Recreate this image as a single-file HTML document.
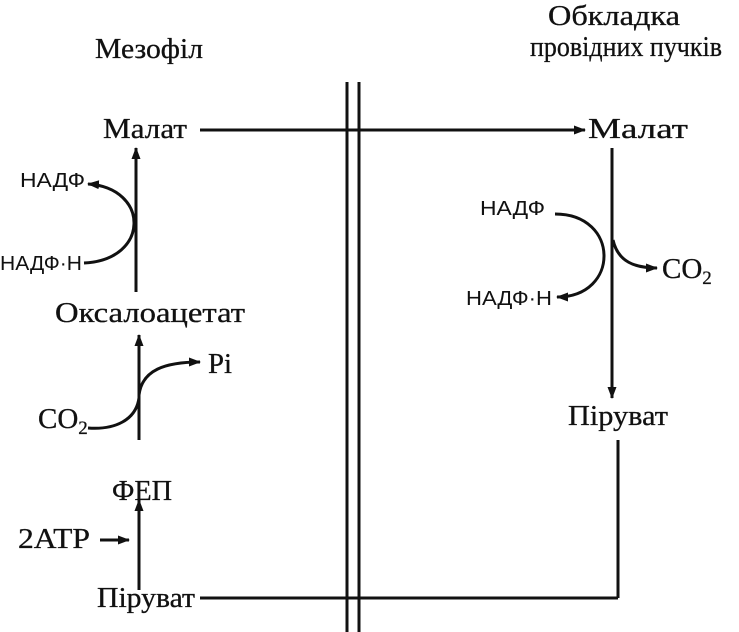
<!DOCTYPE html>
<html><head><meta charset="utf-8"><style>
html,body{margin:0;padding:0;background:#fff;}
svg{display:block}
.s{font-family:"Liberation Serif",serif;font-size:29px;fill:#111;stroke:#111;stroke-width:0.3}
.a{font-family:"Liberation Sans",sans-serif;font-size:20px;fill:#111}
</style></head><body>
<svg width="739" height="632" viewBox="0 0 739 632" xmlns="http://www.w3.org/2000/svg">
<defs><marker id="ah" markerWidth="12" markerHeight="9" refX="11" refY="4.5" orient="auto" markerUnits="userSpaceOnUse"><path d="M0,0 L12,4.5 L0,9 Z" fill="#111"/></marker></defs>
<g stroke="#111" stroke-width="3" fill="none">
<line x1="347" y1="82" x2="347" y2="632"/>
<line x1="359" y1="82" x2="359" y2="632"/>
<line x1="200" y1="130" x2="585" y2="130" marker-end="url(#ah)"/>
<line x1="136" y1="292" x2="136" y2="148" marker-end="url(#ah)"/>
<path d="M84,263 C150,260 150,188 88,184" marker-end="url(#ah)"/>
<line x1="139" y1="440" x2="139" y2="335" marker-end="url(#ah)"/>
<path d="M139,395 C142,370 165,362 200,362" marker-end="url(#ah)"/>
<path d="M88,428 C115,430 136,420 139,398"/>
<line x1="139" y1="590" x2="139" y2="500" marker-end="url(#ah)"/>
<line x1="100" y1="540" x2="129" y2="540" marker-end="url(#ah)"/>
<line x1="200" y1="598" x2="618" y2="598"/>
<line x1="618" y1="598" x2="618" y2="440"/>
<line x1="612" y1="148" x2="612" y2="398" marker-end="url(#ah)"/>
<path d="M555,214 C620,214 620,297 557,297" marker-end="url(#ah)"/>
<path d="M613,240 C618,262 635,268 657,268" marker-end="url(#ah)"/>
</g>
<text class="s" x="95" y="58" textLength="108" lengthAdjust="spacingAndGlyphs">Мезофіл</text>
<text class="s" x="548" y="25" textLength="132" lengthAdjust="spacingAndGlyphs">Обкладка</text>
<text class="s" x="530" y="56" textLength="192" lengthAdjust="spacingAndGlyphs">провідних пучків</text>
<text class="s" x="103" y="138" textLength="84" lengthAdjust="spacingAndGlyphs">Малат</text>
<text class="s" x="588" y="138" textLength="100" lengthAdjust="spacingAndGlyphs">Малат</text>
<text class="a" x="20" y="187" textLength="65" lengthAdjust="spacingAndGlyphs">НАДФ</text>
<text class="a" x="0" y="270" textLength="82" lengthAdjust="spacingAndGlyphs">НАДФ·Н</text>
<text class="s" x="55" y="322" textLength="190" lengthAdjust="spacingAndGlyphs">Оксалоацетат</text>
<text class="s" x="208" y="373" textLength="24" lengthAdjust="spacingAndGlyphs">Pi</text>
<text class="s" x="38" y="428">CO<tspan font-size="19" dy="6">2</tspan></text>
<text class="s" x="112" y="500" textLength="60" lengthAdjust="spacingAndGlyphs">ФЕП</text>
<text class="s" x="18" y="548" textLength="72" lengthAdjust="spacingAndGlyphs">2ATP</text>
<text class="s" x="97" y="607" textLength="98" lengthAdjust="spacingAndGlyphs">Піруват</text>
<text class="a" x="480" y="215" textLength="65" lengthAdjust="spacingAndGlyphs">НАДФ</text>
<text class="a" x="466" y="305" textLength="86" lengthAdjust="spacingAndGlyphs">НАДФ·Н</text>
<text class="s" x="662" y="278">CO<tspan font-size="19" dy="6">2</tspan></text>
<text class="s" x="568" y="425" textLength="100" lengthAdjust="spacingAndGlyphs">Піруват</text>
</svg>
</body></html>
